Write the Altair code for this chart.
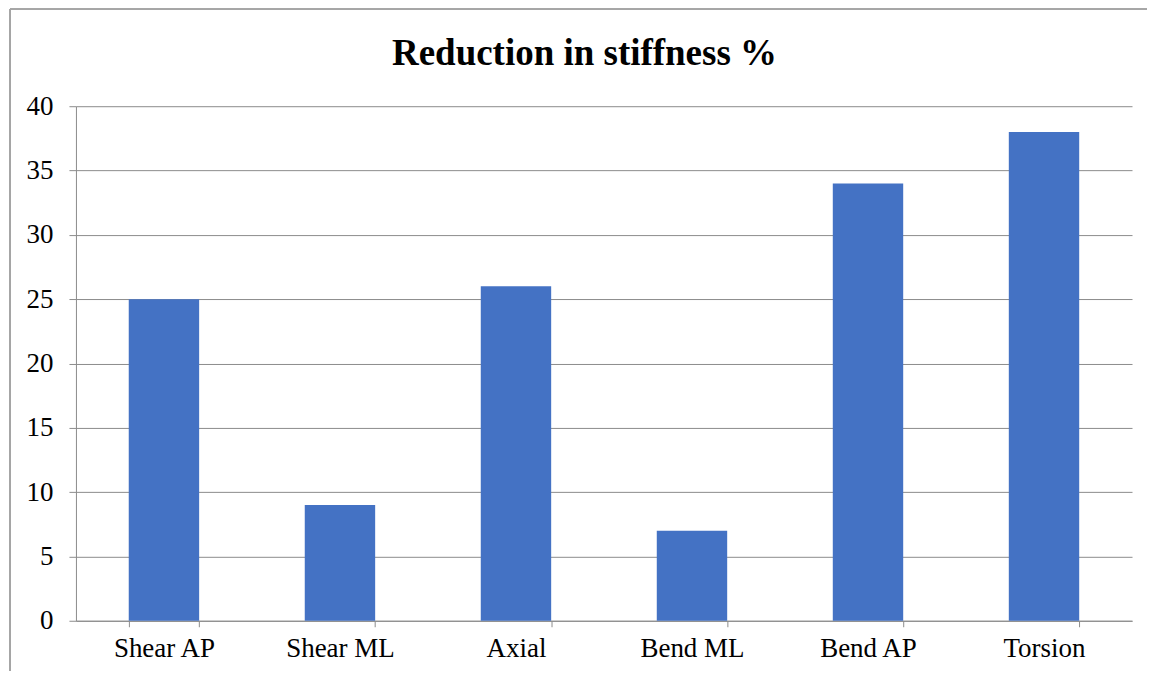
import altair as alt
import pandas as pd

categories = ["Shear AP", "Shear ML", "Axial", "Bend ML", "Bend AP", "Torsion"]
values = [25, 9, 26, 7, 34, 38]
title_text = ["Reduction in stiffness %"]

df = pd.DataFrame({"cat": categories, "val": values})
tdf = pd.DataFrame({"t": title_text})

FONT = "Liberation Serif"
GRAY = "#8c8c8c"

bars = alt.Chart(df).mark_bar(color="#4472C4").encode(
    x=alt.X("cat:N", sort=categories, title=None,
            scale=alt.Scale(paddingInner=0.6, paddingOuter=0.3),
            axis=alt.Axis(labelAngle=0, labelFont=FONT, labelFontSize=27,
                          labelColor="#000000", labelPadding=9,
                          tickBand="extent", tickSize=6, tickColor=GRAY,
                          domainColor=GRAY, grid=False)),
    y=alt.Y("val:Q", title=None,
            scale=alt.Scale(domain=[0, 40], nice=False),
            axis=alt.Axis(values=[0, 5, 10, 15, 20, 25, 30, 35, 40],
                          labelFont=FONT, labelFontSize=27, labelColor="#000000",
                          labelPadding=16, tickSize=7, tickColor=GRAY,
                          domainColor=GRAY, gridColor=GRAY, grid=True)),
)

frame_left = alt.Chart(df).mark_rule(color="#a6a6a6", strokeWidth=1.5, clip=False).encode(
    x=alt.value(-66), y=alt.value(-97), y2=alt.value(600))
frame_top = alt.Chart(df).mark_rule(color="#a6a6a6", strokeWidth=1.5, clip=False).encode(
    x=alt.value(-66), x2=alt.value(1100), y=alt.value(-97))

title = alt.Chart(tdf).mark_text(font=FONT, fontSize=37, fontWeight="bold",
                                 color="#000000", align="center",
                                 baseline="alphabetic").encode(
    text="t:N", x=alt.value(509), y=alt.value(-41))

chart = alt.layer(bars, frame_left, frame_top, title).properties(
    width=1057, height=515,
    autosize=alt.AutoSizeParams(type="none"),
    padding={"left": 68, "top": 98, "right": 15, "bottom": 50},
).configure_view(stroke=None)

chart.save("out.html", embed_options={"renderer": "svg", "actions": False})
